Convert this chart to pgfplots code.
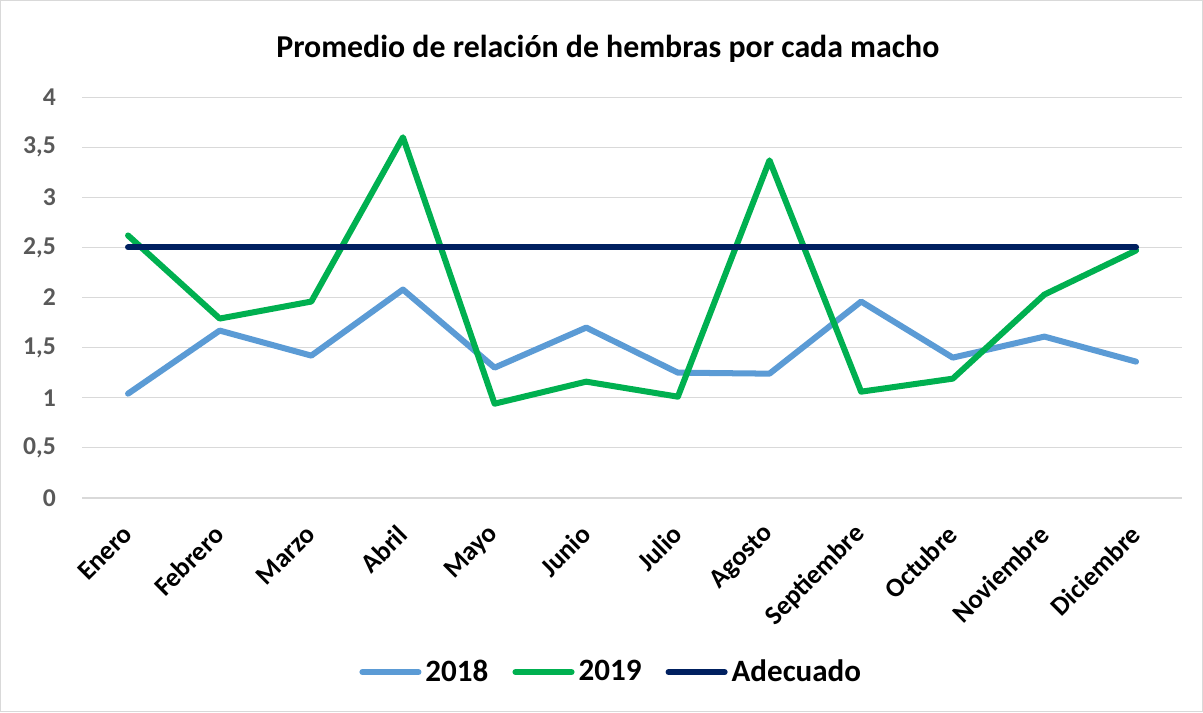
\documentclass[border=0pt]{standalone}
\usepackage{pgfplots}
\pgfplotsset{compat=1.18}
\usepackage{fontspec}
\setmainfont{Carlito}

\definecolor{c2018}{HTML}{5B9BD5}
\definecolor{c2019}{HTML}{00B050}
\definecolor{cadec}{HTML}{002060}
\definecolor{gridc}{HTML}{D9D9D9}
\definecolor{tickc}{HTML}{595959}

\begin{document}
\begin{tikzpicture}[x=1pt,y=1pt]
% frame of the whole chart, 1px = 0.5pt
\draw[gridc, line width=0.6pt] (0.75,0.75) rectangle (600.75,355.75);
\begin{axis}[
  at={(41.5pt,107.5pt)}, anchor=south west,
  scale only axis,
  width=549pt, height=200pt,
  xmin=-0.5, xmax=11.5,
  ymin=0, ymax=4,
  ytick={0,0.5,...,4},
  xtick={0,...,11},
  xticklabels={Enero,Febrero,Marzo,Abril,Mayo,Junio,Julio,Agosto,Septiembre,Octubre,Noviembre,Diciembre},
  axis line style={draw=none},
  major tick length=0pt,
  ymajorgrids,
  grid style={gridc, line width=0.7pt},
  /pgf/number format/assume math mode=true,
  /pgf/number format/use comma,
  yticklabel style={font=\fontsize{12.8}{14}\selectfont\bfseries, text=tickc, anchor=east, inner sep=0pt, xshift=-13pt},
  xticklabel style={font=\fontsize{13.4}{15}\selectfont\bfseries, xshift=0pt, yshift=-16pt, rotate=45, anchor=east, inner sep=0pt},
  title={Promedio de relación de hembras por cada macho},
  title style={font=\fontsize{15.9}{18}\selectfont\bfseries, at={(0.478,1.09)}, anchor=center, yshift=0pt},
  legend style={draw=none, at={(0.482,-0.435)}, anchor=center, font=\fontsize{15.5}{17}\selectfont\bfseries,
    legend columns=3, /tikz/every even column/.append style={column sep=10pt}},
  legend image code/.code={\draw[#1, line cap=round] (0pt,0pt) -- (28pt,0pt);},
  every axis plot/.append style={line width=3pt, line cap=round, line join=round},
  clip=false,
]
\addplot[c2018] coordinates {
  (0,1.04) (1,1.67) (2,1.42) (3,2.08) (4,1.30) (5,1.70)
  (6,1.25) (7,1.24) (8,1.96) (9,1.40) (10,1.61) (11,1.36)
};
\addplot[c2019] coordinates {
  (0,2.62) (1,1.79) (2,1.96) (3,3.60) (4,0.94) (5,1.16)
  (6,1.01) (7,3.37) (8,1.06) (9,1.19) (10,2.03) (11,2.47)
};
\addplot[cadec] coordinates {
  (0,2.5) (1,2.5) (2,2.5) (3,2.5) (4,2.5) (5,2.5)
  (6,2.5) (7,2.5) (8,2.5) (9,2.5) (10,2.5) (11,2.5)
};
\legend{2018, 2019, Adecuado}
\end{axis}
\end{tikzpicture}
\end{document}
